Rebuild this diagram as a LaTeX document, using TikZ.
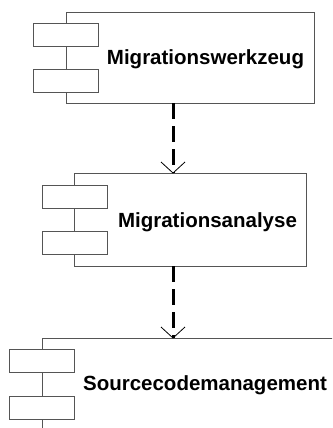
\documentclass[tikz,border=0pt]{standalone}
\usepackage{fontspec}
\setmainfont{Liberation Sans}
\usetikzlibrary{calc}
\begin{document}
\begin{tikzpicture}[x=1pt,y=-1pt,
  boxline/.style={draw={rgb,255:red,85;green,85;blue,85}, line width=0.9pt},
  comp/.style={boxline, rectangle, inner sep=0pt},
  port/.style={boxline, fill=white, rectangle, inner sep=0pt, minimum width=65pt, minimum height=23pt},
  lbl/.style={font=\fontsize{20.5}{24}\selectfont\bfseries, inner sep=0pt},
  dep/.style={line width=3pt, dash pattern=on 16pt off 7pt},
  head/.style={line width=0.8pt}
]
\useasboundingbox (0,0) rectangle (332,428);
\clip (0,0) rectangle (332,428);
\fill[white] (0,0) rectangle (332,428);

% component 1
\node[comp, minimum width=248pt, minimum height=91pt] (b1) at (190,57.5) {};
\node[port] (p1a) at (65.5,34.5) {};
\node[port] (p1b) at (65.5,80.5) {};
\node[lbl, anchor=base] (t1) at (205.5,65) {Migrationswerkzeug};

% component 2
\node[comp, minimum width=232pt, minimum height=93pt] (b2) at (190,219.5) {};
\node[port] (p2a) at (74.5,196.5) {};
\node[port] (p2b) at (74.5,242.5) {};
\node[lbl, anchor=base] (t2) at (207.5,227) {Migrationsanalyse};

% component 3 (cut off)
\coordinate (b3tl) at (42,338);
\draw[boxline] (42,440) -- (b3tl) -- (345,338);
\node[port] (p3a) at (41.5,361) {};
\node[port] (p3b) at (41.5,407.5) {};
\node[lbl, anchor=base] (t3) at (205,390) {Sourcecodemanagement};

% dependencies
\coordinate (s1) at (173,103);
\coordinate (e1) at (173,173);
\coordinate (s2) at (173,266);
\coordinate (e2) at (173,338);
\draw[dep] (s1) -- (e1);
\draw[head] ($(e1)+(-12,-11)$) -- (e1) -- ($(e1)+(12,-11)$);
\draw[dep] (s2) -- (e2);
\draw[head] ($(e2)+(-12,-11)$) -- (e2) -- ($(e2)+(12,-11)$);
\end{tikzpicture}
\end{document}
